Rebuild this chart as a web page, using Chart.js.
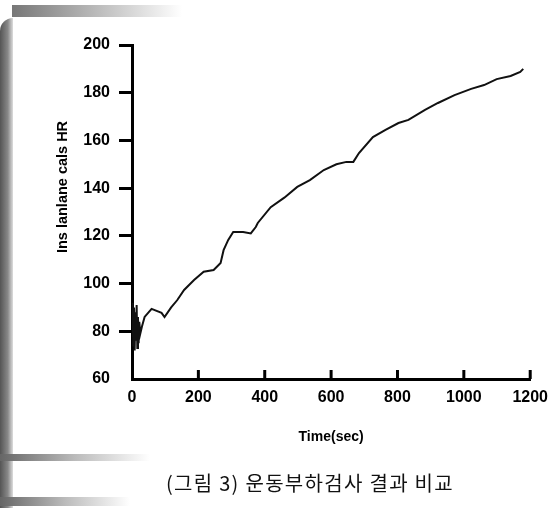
<!DOCTYPE html>
<html>
<head>
<meta charset="utf-8">
<style>
    body { margin: 0; background: #fff; }
    #wrap { position: relative; width: 557px; height: 508px; overflow: hidden; }
    .scan { position: absolute; }
    #caption {
        position: absolute; left: 0; width: 620px; top: 468px; text-align: center;
        font-family: "Noto Sans CJK KR", sans-serif; font-size: 20px; letter-spacing: 1.3px; color: #111;
    }
</style>
</head>
<body>
<div id="wrap">
    <!-- 스캔된 원본의 가장자리 얼룩 -->
    <div class="scan" style="left:0;top:18px;width:13px;height:490px;background:linear-gradient(90deg,#555,#888 60%,#ddd);border-top-left-radius:16px;"></div>
    <div class="scan" style="left:12px;top:5px;width:170px;height:12px;background:linear-gradient(90deg,#777,#bbb 50%,rgba(255,255,255,0));"></div>
    <div class="scan" style="left:0;top:454px;width:150px;height:7px;background:linear-gradient(90deg,#666,#bbb 50%,rgba(255,255,255,0));"></div>
    <div class="scan" style="left:0;top:497px;width:130px;height:9px;background:linear-gradient(90deg,#666,#bbb 50%,rgba(255,255,255,0));"></div>
    <canvas id="myChart" width="557" height="508" style="position:absolute;left:0;top:0;"></canvas>
    <div id="caption">(그림 3) 운동부하검사 결과 비교</div>
</div>

<script src="https://cdn.jsdelivr.net/npm/chart.js"></script>
<script>
    // 시간(초)과 순간 심박수 - 그림에서 읽은 값
    const times = [0, 2, 4, 6, 8, 10, 12, 14, 16, 18, 20, 22, 25, 30, 38, 59, 89, 98, 118, 136, 157, 187, 216, 246, 267, 276, 290, 305, 335, 358, 373, 379, 418, 459, 498, 536, 578, 616, 646, 667, 684, 726, 764, 803, 833, 883, 922, 972, 1022, 1061, 1099, 1141, 1170, 1179];
    const hr = [78, 92, 74, 90, 72, 88, 76, 91, 73, 86, 75, 84, 79, 82, 86, 89.4, 87.7, 86, 90, 93, 97.3, 101.5, 105, 105.7, 108.6, 114, 118.3, 121.6, 121.6, 121, 123.7, 125.4, 132, 136, 140.5, 143.4, 147.6, 150, 151, 151, 154.7, 161.4, 164.4, 167.3, 168.6, 172.8, 175.7, 179, 181.6, 183.2, 185.7, 187, 188.7, 190];

    const xTicks = [0, 200, 400, 600, 800, 1000, 1200];
    const yTicks = [60, 80, 100, 120, 140, 160, 180, 200];

    const points = [];
    for (var i = 0; i < times.length; i++) {
        points.push({ x: times[i], y: hr[i] });
    }

    const tickFont = { family: "Liberation Sans", size: 16, weight: "bold" };

    // x축 눈금은 안쪽(위쪽)으로, y축 제목은 직접 그린다
    const extras = {
        id: 'extras',
        afterDraw(chart) {
            const ctx = chart.ctx;
            const x = chart.scales.x;
            const y0 = chart.chartArea.bottom;
            ctx.save();
            ctx.strokeStyle = '#000';
            ctx.lineWidth = 3;
            xTicks.forEach(function (v) {
                if (v === 0) return;
                const px = x.getPixelForValue(v);
                ctx.beginPath();
                ctx.moveTo(px, y0);
                ctx.lineTo(px, y0 - 9);
                ctx.stroke();
            });
            ctx.translate(63, 187);
            ctx.rotate(-Math.PI / 2);
            ctx.fillStyle = '#000';
            ctx.font = 'bold 14.5px "Liberation Sans"';
            ctx.textAlign = 'center';
            ctx.textBaseline = 'middle';
            ctx.fillText('Ins lanlane cals HR', 0, 0);
            ctx.restore();
        }
    };

    new Chart(document.getElementById('myChart'), {
        type: 'line',
        data: {
            datasets: [{
                data: points,
                borderColor: '#111',
                borderWidth: 2,
                pointRadius: 0,
                tension: 0
            }]
        },
        options: {
            responsive: false,
            animation: false,
            layout: { padding: { left: 52, top: 45, right: 20, bottom: 0 } },
            plugins: { legend: { display: false }, tooltip: { enabled: false } },
            scales: {
                x: {
                    type: 'linear',
                    min: 0,
                    max: 1200,
                    afterFit: function (s) { s.height = 129; },
                    afterBuildTicks: function (s) { s.ticks = xTicks.map(function (v) { return { value: v }; }); },
                    border: { display: true, color: '#000', width: 3 },
                    grid: { display: false, drawTicks: false },
                    ticks: {
                        color: '#000', font: tickFont, padding: 9, maxRotation: 0,
                        callback: function (v) { return String(v); }
                    },
                    title: {
                        display: true,
                        text: 'Time(sec)',
                        color: '#000',
                        font: { family: "Liberation Sans", size: 14, weight: "bold" },
                        padding: { top: 0, bottom: 62 }
                    }
                },
                y: {
                    min: 60,
                    max: 200,
                    afterFit: function (s) { s.width = 80; },
                    afterBuildTicks: function (s) { s.ticks = yTicks.map(function (v) { return { value: v }; }); },
                    border: { display: true, color: '#000', width: 3 },
                    grid: {
                        drawOnChartArea: false,
                        tickLength: 13,
                        tickWidth: 3,
                        tickColor: function (c) { return c.tick && c.tick.value === 60 ? 'rgba(0,0,0,0)' : '#000'; }
                    },
                    ticks: {
                        color: '#000', font: tickFont, padding: 9,
                        callback: function (v) { return String(v); }
                    }
                }
            }
        },
        plugins: [extras]
    });
</script>
</body>
</html>
